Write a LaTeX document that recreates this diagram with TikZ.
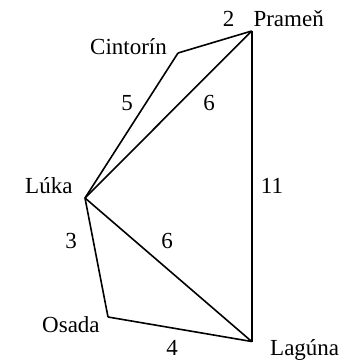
\documentclass[tikz,border=0pt]{standalone}
\usepackage{fontspec}
\setmainfont{Liberation Serif}
\tikzset{
  edge/.style={line width=1.6pt,line join=miter},
  lbltext/.style={inner sep=0pt,font=\fontsize{23}{27}\selectfont},
  wnum/.style={lbltext,anchor=base},
  placename/.style={lbltext,anchor=base west}}
\begin{document}
\begin{tikzpicture}[x=1pt,y=-1pt]
\useasboundingbox (0,0) rectangle (356,361);
\coordinate (P) at (251.7,31);
\coordinate (C) at (178,53);
\coordinate (L) at (85,198);
\coordinate (O) at (108,317);
\coordinate (G) at (251.7,341.5);
\draw[edge] (C) -- (P);
\draw[edge] (L) -- (C);
\draw[edge] (L) -- (P);
\draw[edge] (P) -- (G);
\draw[edge] (L) -- (G);
\draw[edge] (L) -- (O);
\draw[edge] (O) -- (G);
\node[placename] (nP) at (253.3,26.7) {Prameň};
\node[placename] (nC) at (90,55) {Cintorín};
\node[placename] (nL) at (25,193) {Lúka};
\node[placename] (nO) at (42,332) {Osada};
\node[placename] (nG) at (270,355.5) {Lagúna};
\node[wnum] (w2) at (228.5,26.7) {2};
\node[wnum] (w5) at (127,110) {5};
\node[wnum] (w6a) at (209,110) {6};
\node[wnum] (w11) at (272,193) {11};
\node[wnum] (w3) at (71,248) {3};
\node[wnum] (w6b) at (167,248) {6};
\node[wnum] (w4) at (172,355.5) {4};
\end{tikzpicture}
\end{document}
